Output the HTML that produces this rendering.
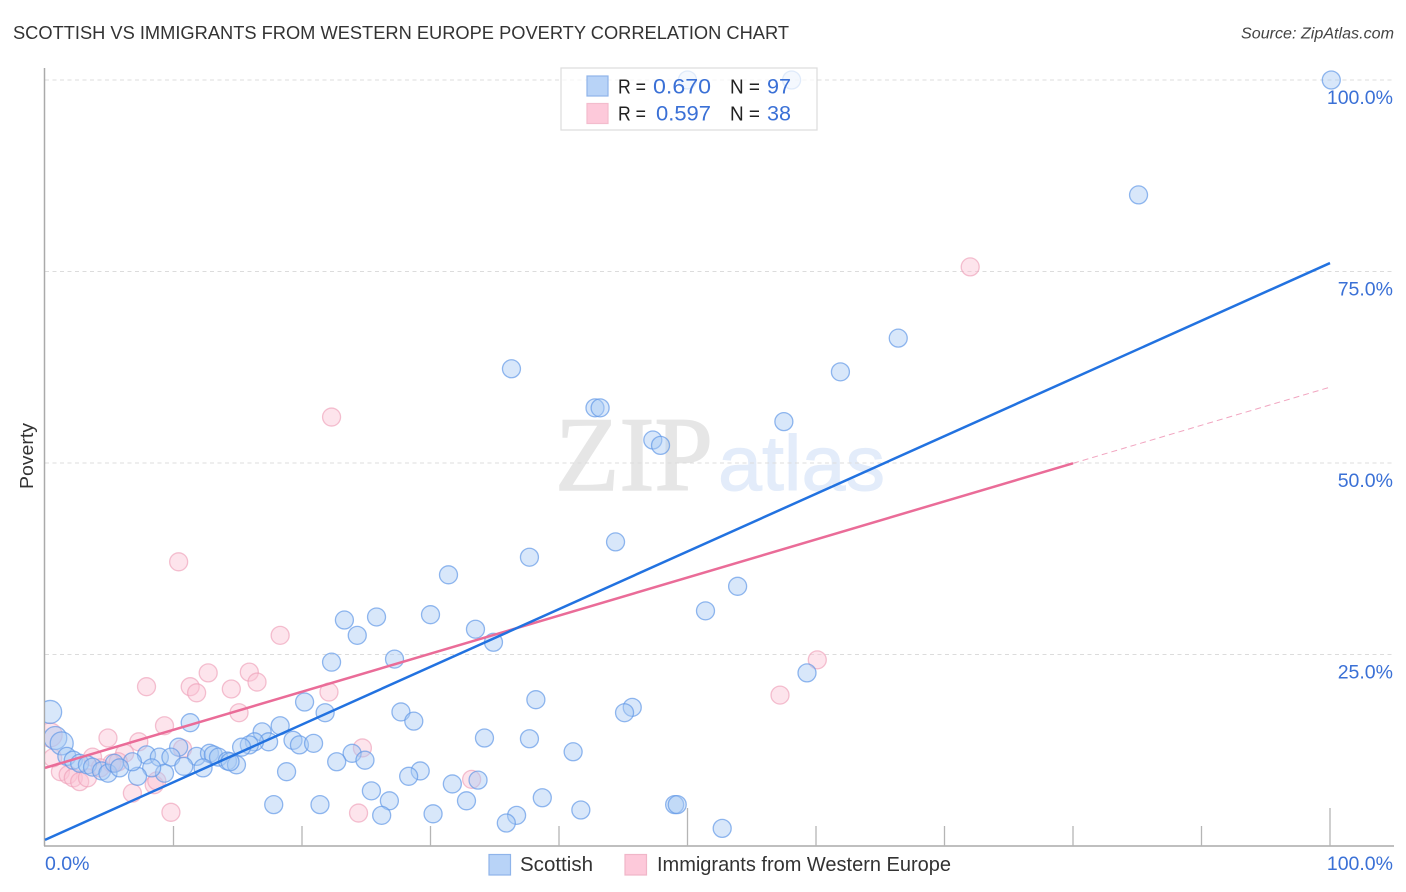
<!DOCTYPE html>
<html lang="en">
<head>
<meta charset="utf-8">
<title>Scottish vs Immigrants from Western Europe Poverty Correlation Chart</title>
<style>
html,body{margin:0;padding:0;background:#fff;}
body{width:1406px;height:892px;overflow:hidden;}
svg{display:block;font-family:"Liberation Sans",sans-serif;}
</style>
</head>
<body>
<svg id="chart" width="1406" height="892" viewBox="0 0 1406 892" xmlns="http://www.w3.org/2000/svg">
  <defs><clipPath id="plot-clip"><rect x="45" y="60" width="1349" height="786"/></clipPath></defs>
  <rect x="0" y="0" width="1406" height="892" fill="#fff"/>
  <text x="13" y="39" font-size="18.5" fill="#333" textLength="776" lengthAdjust="spacingAndGlyphs">SCOTTISH VS IMMIGRANTS FROM WESTERN EUROPE POVERTY CORRELATION CHART</text>
  <text x="1394" y="38.5" font-size="15.5" font-style="italic" fill="#444" text-anchor="end" textLength="153" lengthAdjust="spacingAndGlyphs">Source: ZipAtlas.com</text>
  <text x="555" y="490" font-family="'Liberation Serif',serif" font-size="106" fill="#e6e6e6" stroke="#e6e6e6" stroke-width="1.5" textLength="158" lengthAdjust="spacingAndGlyphs">ZIP</text>
  <text x="718" y="490" font-size="78" fill="#e3ecfa" stroke="#e3ecfa" stroke-width="1" textLength="167" lengthAdjust="spacingAndGlyphs">atlas</text>
  <g id="grid"></g>
  <g id="axes"></g>
  <g id="points" clip-path="url(#plot-clip)"></g>
  <g id="trends"></g>
  <g id="labels"></g>
  <text transform="translate(33,456) rotate(-90)" font-size="18" fill="#333" text-anchor="middle" textLength="66" lengthAdjust="spacingAndGlyphs">Poverty</text>

  <g>
    <rect x="561" y="68" width="256" height="62" fill="#fff" fill-opacity="0.72" stroke="#dcdcdc" stroke-width="1.2"/>
    <rect x="587" y="76" width="21" height="20" fill="#b8d3f7" stroke="#8fb4ea" stroke-width="1.2"/>
    <rect x="587" y="103.500" width="21" height="20" fill="#fdc9da" stroke="#f3bccd" stroke-width="1.2"/>
    <g font-size="20" fill="#222">
      <text x="618" y="93.500" textLength="28" lengthAdjust="spacingAndGlyphs">R =</text>
      <text x="730" y="93.500" textLength="30" lengthAdjust="spacingAndGlyphs">N =</text>
      <text x="618" y="120.500" textLength="28" lengthAdjust="spacingAndGlyphs">R =</text>
      <text x="730" y="120.500" textLength="30" lengthAdjust="spacingAndGlyphs">N =</text>
    </g>
    <g font-size="21" fill="#3a70d6">
      <text x="653" y="93.500" textLength="58" lengthAdjust="spacingAndGlyphs">0.670</text>
      <text x="767" y="93.500" textLength="24" lengthAdjust="spacingAndGlyphs">97</text>
      <text x="656" y="120.500" textLength="55" lengthAdjust="spacingAndGlyphs">0.597</text>
      <text x="767" y="120.500" textLength="24" lengthAdjust="spacingAndGlyphs">38</text>
    </g>
  </g>

  <g>
    <rect x="489" y="854.500" width="21.500" height="20.500" fill="#b8d3f7" stroke="#8fb4ea" stroke-width="1.2"/>
    <text x="520" y="871" font-size="20" fill="#333" textLength="73" lengthAdjust="spacingAndGlyphs">Scottish</text>
    <rect x="625" y="854.500" width="21.500" height="20.500" fill="#fdc9da" stroke="#f0b6c8" stroke-width="1.2"/>
    <text x="657" y="871" font-size="20" fill="#333" textLength="294" lengthAdjust="spacingAndGlyphs">Immigrants from Western Europe</text>
  </g>
</svg>
<script>
// Tick values and labels
const xTicks = [0, 10, 20, 30, 40, 50, 60, 70, 80, 90, 100];
const xMajorTicks = [50, 100];
const yTicks = [25, 50, 75, 100];
const yTickLabels = ["25.0%", "50.0%", "75.0%", "100.0%"];
const xEndTicks = [0, 100];
const xEndLabels = ["0.0%", "100.0%"];

// Scottish series: percent of Scottish (x) and poverty (y)
const scottishX = [100.1,50.0,58.1,85.1,66.4,61.9,36.3,42.8,43.2,57.5,47.3,47.9,44.4,37.7,31.4,53.9,51.4,30.0,25.8,23.3,24.3,33.5,34.9,27.2,22.3,59.3,38.2,45.7,45.1,20.2,21.8,27.7,28.7,11.3,18.3,16.9,17.4,16.3,15.9,15.3,19.3,19.8,20.9,34.2,37.7,10.4,41.1,23.9,7.9,8.9,9.8,11.8,12.8,13.1,13.5,14.2,14.9,14.4,22.7,24.9,12.3,10.8,9.3,8.3,7.2,6.8,18.8,29.2,28.3,33.7,31.7,25.4,26.8,32.8,38.7,17.8,21.4,26.2,30.2,36.7,35.9,41.7,49.0,49.2,52.7,0.4,0.8,1.3,1.7,2.2,2.7,3.3,3.7,4.4,4.9,5.4,5.8];
const scottishY = [100,100,100,85.0,66.3,61.9,62.3,57.2,57.2,55.4,53.0,52.3,39.7,37.7,35.4,33.9,30.7,30.2,29.9,29.5,27.5,28.3,26.6,24.4,24.0,22.6,19.1,18.1,17.4,18.8,17.4,17.5,16.3,16.1,15.7,14.9,13.6,13.6,13.2,12.9,13.8,13.2,13.4,14.1,14.0,12.9,12.3,12.1,11.9,11.6,11.6,11.7,12.1,11.9,11.6,11.1,10.6,11.0,11.0,11.2,10.2,10.4,9.5,10.2,9.1,11.0,9.7,9.8,9.1,8.6,8.1,7.2,5.9,5.9,6.3,5.4,5.4,4.0,4.2,4.0,3.0,4.7,5.4,5.4,2.3,17.5,14.1,13.4,11.7,11.2,10.8,10.6,10.3,9.8,9.5,10.8,10.2];

// Immigrants series: percent of immigrants (x) and poverty (y)
const immigrantsX = [72.0,22.3,10.4,18.3,60.1,57.2,7.9,11.3,11.8,12.7,15.9,16.5,14.5,15.1,22.1,9.3,4.9,10.7,24.7,7.3,6.2,3.7,5.2,1.2,1.8,2.2,2.7,3.3,6.8,8.5,8.7,9.8,24.4,33.2,0.6,0.4,4.3,5.7];
const immigrantsY = [75.6,56.0,37.1,27.5,24.3,19.7,20.8,20.8,20.0,22.6,22.7,21.4,20.5,17.4,20.1,15.7,14.1,12.7,12.8,13.6,12.1,11.6,10.8,9.7,9.3,8.9,8.4,8.9,6.9,8.0,8.5,4.4,4.3,8.7,11.5,14.5,10.2,11.0];

// Trend line values at x = 0 and x = 100
const scottishTrend = [0.8, 76.1];
const immigrantsTrend = [10.2, 59.9];
const immigrantsSolidEnd = 80;

// Axis functions
const xScale = v => 45 + v * 12.85;
const yScale = v => 846 - v * 7.66;
const NS = 'http://www.w3.org/2000/svg';
const make = (parent, tag, props) => {
  const el = document.createElementNS(NS, tag);
  for (const k in props) el.setAttribute(k, props[k]);
  parent.appendChild(el);
  return el;
};
const grid = document.getElementById('grid');
const axes = document.getElementById('axes');
const pointsG = document.getElementById('points');
const trends = document.getElementById('trends');
const labels = document.getElementById('labels');

yTicks.forEach(t => {
  const line = make(grid, 'line', {x1: 45, x2: 1393, y1: yScale(t), y2: yScale(t), stroke: '#dcdcdc', 'stroke-width': 1, 'stroke-dasharray': '4 3.500'});
  
  
});

const yAxis = make(axes, 'line', {x1: 44.500, x2: 44.500, y1: 68, y2: 846, stroke: '#aaa', 'stroke-width': 1.5});


const xAxis = make(axes, 'line', {x1: 44, x2: 1394, y1: 846, y2: 846, stroke: '#aaa', 'stroke-width': 1.5});


xTicks.slice(1).forEach(t => {
  const top = xMajorTicks.includes(t) ? 808 : 826;
  const tick = make(axes, 'line', {x1: xScale(t), x2: xScale(t), y1: top, y2: 846, stroke: '#b5b5b5', 'stroke-width': 1.300});
  
  
});

const radiusFor = (x, y, isPink) => (x < 1.5 && y > 13) ? (isPink ? 12 : 11.5) : 9;
immigrantsX.forEach((x, i) => {
  const c = make(pointsG, 'circle', {cx: xScale(x), cy: yScale(immigrantsY[i]), r: radiusFor(x, immigrantsY[i], true), fill: '#fbc3d5', 'fill-opacity': 0.45, stroke: '#ee9fb8', 'stroke-opacity': 0.65, 'stroke-width': 1.300});
  
  
});
scottishX.forEach((x, i) => {
  const c = make(pointsG, 'circle', {cx: xScale(x), cy: yScale(scottishY[i]), r: radiusFor(x, scottishY[i], false), fill: '#a9c9f5', 'fill-opacity': 0.45, stroke: '#5f97e6', 'stroke-opacity': 0.68, 'stroke-width': 1.300});
  
  
});

const pinkAt = x => immigrantsTrend[0] + (immigrantsTrend[1] - immigrantsTrend[0]) * x / 100;
const pinkDash = make(trends, 'line', {x1: xScale(immigrantsSolidEnd), y1: yScale(pinkAt(immigrantsSolidEnd)), x2: xScale(100), y2: yScale(immigrantsTrend[1]), stroke: '#ee8fb0', 'stroke-width': 1, 'stroke-dasharray': '6 4', 'stroke-opacity': 0.8});


const pinkSolid = make(trends, 'line', {x1: xScale(0), y1: yScale(immigrantsTrend[0]), x2: xScale(immigrantsSolidEnd), y2: yScale(pinkAt(immigrantsSolidEnd)), stroke: '#ea6c98', 'stroke-width': 2.500});


const blueLine = make(trends, 'line', {x1: xScale(0), y1: yScale(scottishTrend[0]), x2: xScale(100), y2: yScale(scottishTrend[1]), stroke: '#2272e0', 'stroke-width': 2.500});



yTicks.forEach((t, i) => {
  const label = make(labels, 'text', {x: 1393, y: yScale(t) + 24, 'font-size': 19.500, fill: '#3a70d6', 'text-anchor': 'end'});
  label.textContent = yTickLabels[i];
  
  
});
xEndTicks.forEach((t, i) => {
  const label = make(labels, 'text', {x: t === 0 ? 45 : 1393, y: 870, 'font-size': 19.500, fill: '#3a70d6', 'text-anchor': t === 0 ? 'start' : 'end'});
  label.textContent = xEndLabels[i];
  
  
});
</script>
</body>
</html>
